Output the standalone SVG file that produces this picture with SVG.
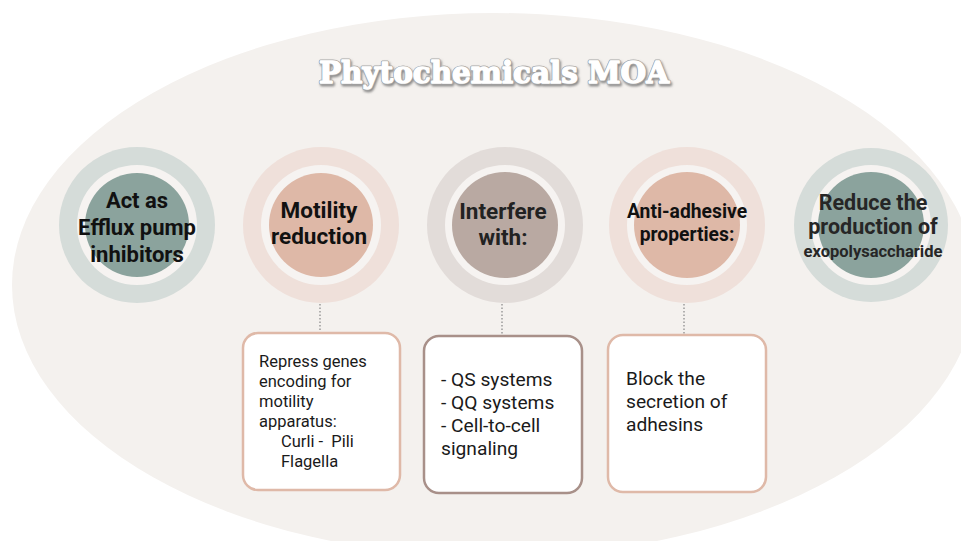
<svg xmlns="http://www.w3.org/2000/svg" width="961" height="541" viewBox="0 0 961 541">
<defs>
<filter id="sh" x="-10%" y="-30%" width="120%" height="160%">
<feDropShadow dx="1.2" dy="1.8" stdDeviation="0.9" flood-color="#6e6e6e" flood-opacity="0.8"/>
</filter>
<style>
.gap{fill:#f6f3f1}
.head{font-family:Roboto,"Liberation Sans",sans-serif;font-weight:700;text-anchor:middle;fill:#111}
.body{font-family:Roboto,"Liberation Sans",sans-serif;font-weight:400;fill:#1a1a1a}
.box{fill:#ffffff;stroke-width:2.5}
.conn{stroke:#9a9a9a;stroke-width:1.5;stroke-dasharray:1.5 2;fill:none}
.title{font-family:'DejaVu Serif',serif;font-weight:700;font-size:29px;text-anchor:middle;fill:#ffffff}
</style>
</defs>
<rect x="0" y="0" width="961" height="541" fill="#ffffff"/>
<ellipse cx="494" cy="285" rx="482" ry="272" fill="#f4f1ee"/>
<g id="title">
<text class="title" x="494" y="83" textLength="350" lengthAdjust="spacingAndGlyphs" stroke="#a8a8a8" stroke-width="3" stroke-linejoin="round" filter="url(#sh)">Phytochemicals MOA</text>
<text class="title" x="494" y="83" textLength="350" lengthAdjust="spacingAndGlyphs" stroke="#ffffff" stroke-width="1.4" stroke-linejoin="round">Phytochemicals MOA</text>
</g>

<g id="connectors">
<line class="conn" x1="320" y1="304" x2="320" y2="333"/>
<line class="conn" x1="502" y1="304" x2="502" y2="335"/>
<line class="conn" x1="684" y1="304" x2="684" y2="334"/>
</g>

<g id="node-efflux">
<circle cx="137" cy="225" r="78" fill="#d5dcd9"/>
<circle class="gap" cx="137" cy="225" r="60"/>
<circle cx="137" cy="225" r="52" fill="#8ba39d"/>
<text class="head" font-size="22"><tspan x="137" y="208">Act as</tspan><tspan x="137" y="235">Efflux pump</tspan><tspan x="137" y="262">inhibitors</tspan></text>
</g>

<g id="node-motility">
<circle cx="321" cy="225" r="78" fill="#efe0da"/>
<circle class="gap" cx="321" cy="225" r="60"/>
<circle cx="321" cy="225" r="52" fill="#deb8a7"/>
<text class="head" font-size="22.5"><tspan x="319" y="218">Motility</tspan><tspan x="319" y="244">reduction</tspan></text>
</g>

<g id="node-interfere">
<circle cx="505" cy="225" r="78" fill="#e2dcd9"/>
<circle class="gap" cx="505" cy="225" r="60"/>
<circle cx="505" cy="225" r="53" fill="#b9a9a2"/>
<text class="head" font-size="22.5" style="fill:#222"><tspan x="503" y="219">Interfere</tspan><tspan x="503" y="245">with:</tspan></text>
</g>

<g id="node-antiadhesive">
<circle cx="687" cy="225" r="78" fill="#efe0da"/>
<circle class="gap" cx="687" cy="225" r="60"/>
<circle cx="687" cy="225" r="53" fill="#deb8a7"/>
<text class="head" font-size="19.3"><tspan x="687" y="218">Anti-adhesive</tspan><tspan x="687" y="241">properties:</tspan></text>
</g>

<g id="node-exopolysaccharide">
<circle cx="871" cy="225" r="77" fill="#d5dcd9"/>
<circle class="gap" cx="871" cy="225" r="60"/>
<circle cx="871" cy="225" r="53" fill="#8ba39d"/>
<text class="head" style="fill:#262626"><tspan x="873" y="210" font-size="21.5">Reduce the</tspan><tspan x="873" y="234" font-size="21.5">production of</tspan><tspan x="873" y="257" font-size="16.5">exopolysaccharide</tspan></text>
</g>

<g id="box-motility">
<rect class="box" x="243" y="333" width="157" height="157" rx="15" stroke="#dfb9a8"/>
<text class="body" font-size="16.5"><tspan x="259" y="367">Repress genes</tspan><tspan x="259" y="387">encoding for</tspan><tspan x="259" y="407">motility</tspan><tspan x="259" y="427">apparatus:</tspan><tspan x="281" y="447">Curli -&#160; Pili</tspan><tspan x="281" y="467">Flagella</tspan></text>
</g>

<g id="box-interfere">
<rect class="box" x="424" y="336" width="158" height="157" rx="15" stroke="#a89089"/>
<text class="body" font-size="19.2"><tspan x="441" y="386">- QS systems</tspan><tspan x="441" y="409">- QQ systems</tspan><tspan x="441" y="432">- Cell-to-cell</tspan><tspan x="441" y="455">signaling</tspan></text>
</g>

<g id="box-antiadhesive">
<rect class="box" x="608" y="335" width="158" height="157" rx="15" stroke="#dfb9a8"/>
<text class="body" font-size="19.2"><tspan x="626" y="385">Block the</tspan><tspan x="626" y="408">secretion of</tspan><tspan x="626" y="431">adhesins</tspan></text>
</g>
</svg>
